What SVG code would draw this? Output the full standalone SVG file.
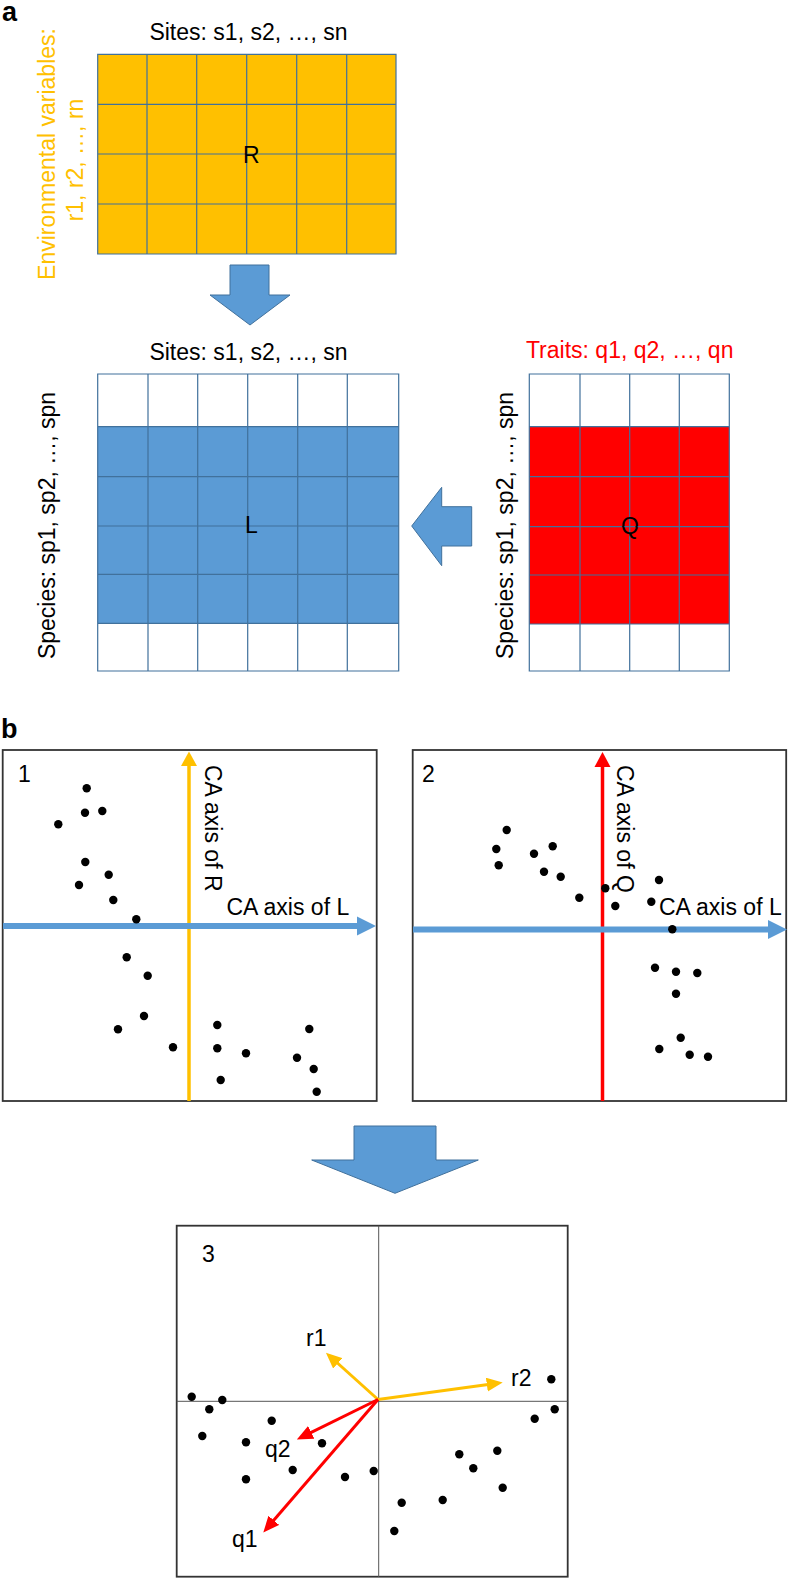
<svg xmlns="http://www.w3.org/2000/svg" width="788" height="1578" viewBox="0 0 788 1578">
<style>
text{font-family:"Liberation Sans",Arial,Helvetica,sans-serif;font-size:23px;fill:#000}
.lab{font-weight:bold;font-size:27px}
.org{fill:#FFC000}
.red{fill:#FF0000}
.grid{stroke:#41719C;stroke-width:1.2;fill:none}
.blk{fill:#5B9BD5;stroke:#41719C;stroke-width:1}
.frame{fill:none;stroke:#333;stroke-width:1.8}
.dot circle{fill:#000}
.ax3{stroke:#555;stroke-width:1;fill:none}
</style>
<defs>
<marker id="hy" markerUnits="userSpaceOnUse" markerWidth="16" markerHeight="14" refX="5" refY="7" orient="auto"><path d="M0,0 L16,7 L0,14 z" fill="#FFC000"/></marker>
<marker id="hr" markerUnits="userSpaceOnUse" markerWidth="16" markerHeight="14" refX="5" refY="7" orient="auto"><path d="M0,0 L16,7 L0,14 z" fill="#FF0000"/></marker>
</defs>
<rect width="788" height="1578" fill="#fff"/>

<text class="lab" x="2" y="21">a</text>
<text class="lab" x="1" y="738">b</text>

<g id="matrixR">
<text x="248.5" y="40" text-anchor="middle">Sites: s1, s2, …, sn</text>
<text class="org" transform="translate(55,154) rotate(-90)" text-anchor="middle">Environmental variables:</text>
<text class="org" transform="translate(82.7,160) rotate(-90)" text-anchor="middle">r1, r2, …, rn</text>
<rect x="97.7" y="54.3" width="298.3" height="199.7" fill="#FFC000"/>
<path class="grid" d="M97.7,54.3H396V254H97.7Z M147,54.3V254 M196.7,54.3V254 M246.7,54.3V254 M296.7,54.3V254 M346.7,54.3V254 M97.7,104.3H396 M97.7,154H396 M97.7,204H396"/>
<text x="243" y="163">R</text>
</g>

<g id="matrixL">
<text x="248.5" y="360" text-anchor="middle">Sites: s1, s2, …, sn</text>
<text transform="translate(55,525.5) rotate(-90)" text-anchor="middle">Species: sp1, sp2, …, spn</text>
<rect x="97.7" y="426.7" width="301" height="196.6" fill="#5B9BD5"/>
<path class="grid" d="M97.7,374H398.7V671H97.7Z M148,374V671 M197.7,374V671 M247.7,374V671 M297.7,374V671 M347.3,374V671 M97.7,426.7H398.7 M97.7,476.7H398.7 M97.7,526H398.7 M97.7,574.3H398.7 M97.7,623.3H398.7"/>
<text x="245" y="533">L</text>
</g>

<g id="matrixQ">
<text class="red" x="629.7" y="358" text-anchor="middle">Traits: q1, q2, …, qn</text>
<text transform="translate(512.7,525.5) rotate(-90)" text-anchor="middle">Species: sp1, sp2, …, spn</text>
<rect x="529.3" y="426.7" width="200" height="197.3" fill="#FF0000"/>
<path class="grid" d="M529.3,374H729.3V671H529.3Z M580,374V671 M629.7,374V671 M679.3,374V671 M529.3,426.7H729.3 M529.3,476.7H729.3 M529.3,526.7H729.3 M529.3,575H729.3 M529.3,624H729.3"/>
<text x="621" y="534">Q</text>
</g>

<g id="connectors">
<polygon class="blk" points="230,265 269,265 269,295 290,295 250,325 210,295 230,295"/>
<polygon class="blk" points="471.7,506.7 471.7,546 441.7,546 441.7,565.7 411.7,526 441.7,487.3 441.7,506.7"/>
<polygon class="blk" points="354,1126 436,1126 436,1160 478.3,1160 395,1193.3 311.7,1160 354,1160"/>
</g>

<g id="panel1">
<rect class="frame" x="2.7" y="750" width="374" height="351"/>
<text x="18" y="782">1</text>
<line x1="189" y1="1101" x2="189" y2="765" stroke="#FFC000" stroke-width="3.5"/>
<polygon points="181,766 189,751.5 197,766" fill="#FFC000"/>
<line x1="3" y1="926" x2="358" y2="926" stroke="#5B9BD5" stroke-width="6"/>
<polygon points="357,916.5 376,926 357,935.5" fill="#5B9BD5"/>
<text transform="translate(205,765) rotate(90)">CA axis of R</text>
<text x="226.5" y="915">CA axis of L</text>
<g class="dot">
<circle cx="86.7" cy="788.3" r="4.2"/><circle cx="85" cy="812.7" r="4.2"/><circle cx="102.3" cy="811" r="4.2"/><circle cx="58.3" cy="824.3" r="4.2"/>
<circle cx="85.3" cy="862" r="4.2"/><circle cx="108.7" cy="874.7" r="4.2"/><circle cx="79" cy="885" r="4.2"/><circle cx="113.3" cy="900" r="4.2"/>
<circle cx="136.3" cy="919.3" r="4.2"/><circle cx="126.7" cy="957.3" r="4.2"/><circle cx="147.7" cy="975.7" r="4.2"/><circle cx="144" cy="1016" r="4.2"/>
<circle cx="118" cy="1029.3" r="4.2"/><circle cx="173" cy="1047.3" r="4.2"/><circle cx="217.3" cy="1025" r="4.2"/><circle cx="217.3" cy="1048.3" r="4.2"/>
<circle cx="246" cy="1053.3" r="4.2"/><circle cx="220.7" cy="1080" r="4.2"/><circle cx="309.3" cy="1029" r="4.2"/><circle cx="297" cy="1057.7" r="4.2"/>
<circle cx="313.7" cy="1069" r="4.2"/><circle cx="316.7" cy="1091.7" r="4.2"/>
</g>
</g>

<g id="panel2">
<rect class="frame" x="412.7" y="750" width="373.5" height="351"/>
<text x="422" y="782">2</text>
<line x1="602.5" y1="1101" x2="602.5" y2="766" stroke="#FF0000" stroke-width="3.5"/>
<polygon points="594.5,767 602.5,752 610.5,767" fill="#FF0000"/>
<line x1="413" y1="929.5" x2="769" y2="929.5" stroke="#5B9BD5" stroke-width="6"/>
<polygon points="768,920 787,929.5 768,939" fill="#5B9BD5"/>
<text transform="translate(617.3,765) rotate(90)">CA axis of Q</text>
<text x="659" y="915">CA axis of L</text>
<g class="dot">
<circle cx="506.7" cy="830" r="4.2"/><circle cx="496.3" cy="849" r="4.2"/><circle cx="498.7" cy="865.3" r="4.2"/><circle cx="534" cy="853.7" r="4.2"/>
<circle cx="552.7" cy="846.3" r="4.2"/><circle cx="544" cy="871.7" r="4.2"/><circle cx="560.7" cy="876.7" r="4.2"/><circle cx="579.3" cy="897.7" r="4.2"/>
<circle cx="605.3" cy="888.3" r="4.2"/><circle cx="615.3" cy="906" r="4.2"/><circle cx="659" cy="880" r="4.2"/><circle cx="651.3" cy="901.7" r="4.2"/>
<circle cx="672.3" cy="929.3" r="4.2"/><circle cx="655" cy="967.7" r="4.2"/><circle cx="676" cy="971.7" r="4.2"/><circle cx="697.3" cy="973" r="4.2"/>
<circle cx="676" cy="993.7" r="4.2"/><circle cx="680.7" cy="1037.7" r="4.2"/><circle cx="659.3" cy="1049" r="4.2"/><circle cx="689.7" cy="1054.7" r="4.2"/>
<circle cx="708" cy="1056.7" r="4.2"/>
</g>
</g>

<g id="panel3">
<rect class="frame" x="176.7" y="1225.7" width="391" height="351"/>
<line class="ax3" x1="378.7" y1="1225.7" x2="378.7" y2="1577"/>
<line class="ax3" x1="176.7" y1="1401.3" x2="567.7" y2="1401.3"/>
<text x="202" y="1262">3</text>
<g class="dot">
<circle cx="191.7" cy="1396.7" r="4.2"/><circle cx="209.3" cy="1409.3" r="4.2"/><circle cx="222.3" cy="1400" r="4.2"/><circle cx="202.3" cy="1436" r="4.2"/>
<circle cx="271.7" cy="1420.7" r="4.2"/><circle cx="246" cy="1442.3" r="4.2"/><circle cx="322" cy="1443.3" r="4.2"/><circle cx="292.7" cy="1470" r="4.2"/>
<circle cx="246" cy="1479.3" r="4.2"/><circle cx="345" cy="1477" r="4.2"/><circle cx="373.7" cy="1471" r="4.2"/><circle cx="551.3" cy="1379.3" r="4.2"/>
<circle cx="554.7" cy="1409.3" r="4.2"/><circle cx="534.7" cy="1418.7" r="4.2"/><circle cx="459.3" cy="1454.3" r="4.2"/><circle cx="497.3" cy="1450.7" r="4.2"/>
<circle cx="473.3" cy="1468.3" r="4.2"/><circle cx="502.7" cy="1487.7" r="4.2"/><circle cx="442.7" cy="1500" r="4.2"/><circle cx="401.7" cy="1502.7" r="4.2"/>
<circle cx="394.3" cy="1531" r="4.2"/>
</g>
<g fill="none" stroke-width="3">
<line x1="378" y1="1399.5" x2="334.1" y2="1360" stroke="#FFC000" marker-end="url(#hy)"/>
<line x1="378" y1="1399.5" x2="491.8" y2="1384" stroke="#FFC000" marker-end="url(#hy)"/>
<line x1="378" y1="1399.5" x2="306.7" y2="1434.6" stroke="#FF0000" marker-end="url(#hr)"/>
<line x1="378" y1="1399.5" x2="270.5" y2="1524.1" stroke="#FF0000" marker-end="url(#hr)"/>
</g>
<text x="306" y="1346">r1</text>
<text x="511" y="1386">r2</text>
<text x="265" y="1457">q2</text>
<text x="232" y="1547">q1</text>
</g>
</svg>
